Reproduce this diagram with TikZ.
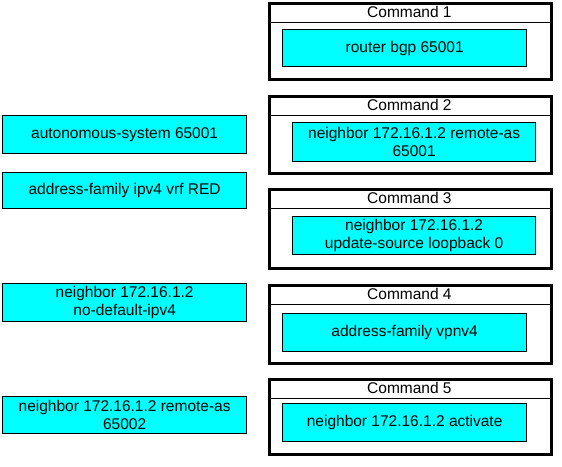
\documentclass[tikz,border=0pt]{standalone}
\usepackage{fontspec}
\setmainfont{Liberation Sans}
\definecolor{aqua}{RGB}{0,255,255}

\begin{document}
\begin{tikzpicture}[x=1pt,y=-1pt,
    frame/.style={draw,line width=2.6pt,anchor=north west,minimum width=282pt,inner sep=0pt},
    head/.style={draw,line width=0.8pt,anchor=north west,minimum width=282pt,minimum height=20pt,inner sep=0pt,font=\fontsize{15.5}{18}\selectfont},
    cmd/.style={draw,fill=aqua,line width=1.3pt,anchor=north west,inner sep=0pt,align=center,font=\fontsize{15.5}{18}\selectfont}]
      \useasboundingbox (0,0) rectangle (562,466);
      \path
        (268,2) node[frame,minimum height=76pt] (f1){}
        (268,95) node[frame,minimum height=77pt] (f2){}
        (268,188) node[frame,minimum height=79pt] (f3){}
        (268,284) node[frame,minimum height=78pt] (f4){}
        (268,378) node[frame,minimum height=75pt] (f5){};
      \path
        (268,2) node[head] (h1){Command 1}
        (268,95) node[head] (h2){Command 2}
        (268,188) node[head] (h3){Command 3}
        (268,284) node[head] (h4){Command 4}
        (268,378) node[head] (h5){Command 5};
      \path
        (282,29) node[cmd,minimum width=244pt,minimum height=37pt] (c1){router bgp 65001}
        (292,122) node[cmd,minimum width=243pt,minimum height=39pt] (c2){neighbor 172.16.1.2 remote-as\\65001}
        (292,216) node[cmd,minimum width=243pt,minimum height=38pt] (c3){neighbor 172.16.1.2\\update-source loopback 0}
        (282,313) node[cmd,minimum width=244pt,minimum height=38pt] (c4){address-family vpnv4}
        (282,403) node[cmd,minimum width=244pt,minimum height=38pt] (c5){neighbor 172.16.1.2 activate};
      \path
        (2,115) node[cmd,minimum width=244pt,minimum height=38pt] (o1){autonomous-system 65001}
        (2,172) node[cmd,minimum width=244pt,minimum height=36pt] (o2){address-family ipv4 vrf RED}
        (2,283) node[cmd,minimum width=244pt,minimum height=38pt] (o3){neighbor 172.16.1.2\\no-default-ipv4}
        (2,396) node[cmd,minimum width=244pt,minimum height=37pt] (o4){neighbor 172.16.1.2 remote-as\\65002};
    \end{tikzpicture}
\end{document}
